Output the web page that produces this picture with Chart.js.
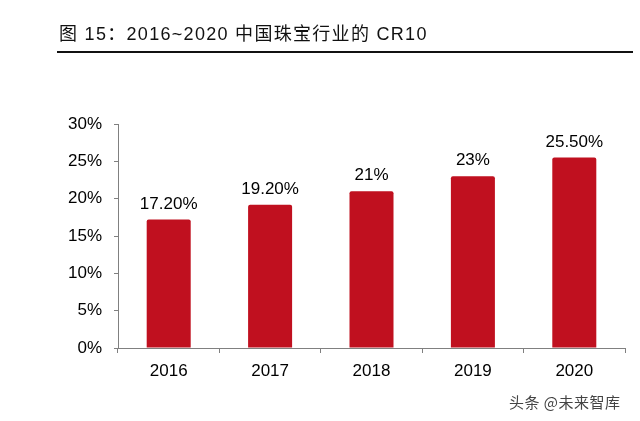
<!DOCTYPE html>
<html>
<head>
<meta charset="utf-8">
<script src="https://cdn.jsdelivr.net/npm/chart.js@4"></script>
<style>
  body { margin: 0; background: #fff; }
  #wrap { position: relative; width: 640px; height: 421px; }
  #title {
    position: absolute; left: 59px; top: 19px;
    font-family: "Liberation Sans", "Noto Sans CJK SC", sans-serif;
    font-size: 18px; letter-spacing: 1.3px; color: #111;
  }
  #rule { position: absolute; left: 57px; top: 51px; width: 576px; height: 2px; background: #111; }
  #mark {
    position: absolute; left: 509px; top: 391px;
    font-family: "Noto Sans CJK SC", sans-serif; font-size: 15px; letter-spacing: 0.5px; color: #444;
  }
  canvas { position: absolute; left: 0; top: 0; }
</style>
</head>
<body>
<div id="wrap">
  <canvas id="c" width="640" height="421"></canvas>
  <div id="title">图 15：2016~2020 中国珠宝行业的 CR10</div>
  <div id="rule"></div>
  <div id="mark">头条 @未来智库</div>
</div>
<script>
const years = ['2016', '2017', '2018', '2019', '2020'];
const cr10 = [17.2, 19.2, 21, 23, 25.5];
const valueLabels = ['17.20%', '19.20%', '21%', '23%', '25.50%'];

const axisColor = '#808080';
const font = { family: 'Liberation Sans, Arial, sans-serif', size: 17 };

// draw the value text above each bar
const barLabels = {
    id: 'barLabels',
    afterDatasetsDraw(chart) {
        const ctx = chart.ctx;
        const meta = chart.getDatasetMeta(0);
        ctx.save();
        ctx.font = font.size + 'px ' + font.family;
        ctx.fillStyle = '#000';
        ctx.textAlign = 'center';
        ctx.textBaseline = 'alphabetic';
        meta.data.forEach((bar, i) => {
            ctx.fillText(valueLabels[i], bar.x, bar.y - 11);
        });
        ctx.restore();
    }
};

new Chart(document.getElementById('c').getContext('2d'), {
    type: 'bar',
    data: {
        labels: years,
        datasets: [{
            data: cr10,
            backgroundColor: '#C0101F',
            categoryPercentage: 1,
            barPercentage: 0.434,
            borderRadius: 2
        }]
    },
    options: {
        responsive: false,
        animation: false,
        layout: { padding: { left: 0, right: 15, top: 124, bottom: 33 } },
        plugins: { legend: { display: false }, tooltip: { enabled: false } },
        scales: {
            x: {
                grid: { offset: true, drawOnChartArea: false, drawTicks: true, tickLength: 5, color: axisColor },
                border: { color: axisColor },
                ticks: { color: '#000', font: font, padding: 8 },
                afterFit(scale) { scale.height = 40; }
            },
            y: {
                min: 0,
                max: 30,
                grid: { drawOnChartArea: false, drawTicks: true, tickLength: 4, color: axisColor },
                border: { color: axisColor },
                ticks: { stepSize: 5, color: '#000', font: font, padding: 12, callback: v => v + '%' },
                afterFit(scale) { scale.width = 118; }
            }
        }
    },
    plugins: [barLabels]
});
</script>
</body>
</html>
